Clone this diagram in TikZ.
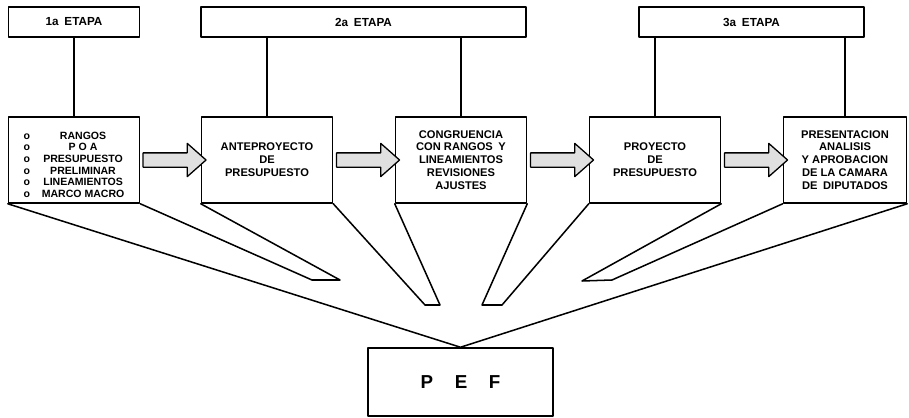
\documentclass[tikz,border=0pt]{standalone}
\usepackage{fontspec}
\setmainfont{Liberation Sans}
\usetikzlibrary{shapes.arrows, calc}

\begin{document}
\begin{tikzpicture}[
  font=\fontsize{9.5}{11}\selectfont\bfseries, x=0.3mm, y=-0.3mm,
  line cap=round, line join=round,
  box/.style={draw=black, fill=white, line width=1.3pt, align=center,
              inner sep=2pt, minimum width=39.3mm, minimum height=25.8mm},
  hdr/.style={draw=black, fill=white, line width=1.3pt, inner sep=2pt,
              minimum height=9mm, font=\fontsize{10}{12}\selectfont\bfseries},
  blk/.style={single arrow, draw=black, fill=black!12, line width=1.1pt,
              inner xsep=0pt, inner ysep=1.95mm, minimum height=18.9mm,
              single arrow head extend=2.85mm, single arrow tip angle=83},
  ln/.style={draw=black, line width=1.3pt},
]
\useasboundingbox (0,0) rectangle (909,418);

\node[hdr, minimum width=39.3mm] (h1) at ( 74, 22) {1a\enspace ETAPA};
\node[hdr, minimum width=97.5mm] (h2) at (363.5, 22) {2a\enspace ETAPA};
\node[hdr, minimum width=67.5mm] (h3) at (751.5, 22) {3a\enspace ETAPA};

\node[box] (b1) at ( 74,160) {};
\node[font=\fontsize{9}{9.9}\selectfont\bfseries, inner sep=0pt] (b1t) at (74,166)
  {\begin{tabular}{@{}l@{\hspace{3.5mm}}c@{}}
   o & RANGOS \\ o & P O A \\ o & PRESUPUESTO \\
   o & PRELIMINAR \\ o & LINEAMIENTOS \\ o & MARCO MACRO
   \end{tabular}};
\node[box] (b2) at (267,160) {ANTEPROYECTO\\DE\\PRESUPUESTO};
\node[box] (b3) at (461,160) {CONGRUENCIA\\CON RANGOS\enspace Y\\LINEAMIENTOS\\REVISIONES\\AJUSTES};
\node[box] (b4) at (655,160) {PROYECTO\\DE\\PRESUPUESTO};
\node[box, minimum width=36.9mm] (b5) at (845,160)
  {PRESENTACION\\ANALISIS\\Y APROBACION\\DE LA CAMARA\\DE\enspace DIPUTADOS};

\node[box, minimum width=55.5mm, minimum height=20.4mm,
      font=\fontsize{16}{19}\selectfont\bfseries] (pef) at (460.5,382)
  {P\hspace{6.5mm}E\hspace{6.5mm}F};

\draw[ln] (h1.south) -- (b1.north);
\draw[ln] (h2.south -| b2.north) -- (b2.north);
\draw[ln] (h2.south -| b3.north) -- (b3.north);
\draw[ln] (h3.south -| b4.north) -- (b4.north);
\draw[ln] (h3.south -| b5.north) -- (b5.north);

\node[blk] (a1) at ($(b1.east)!0.5!(b2.west)$) {};
\node[blk] (a2) at ($(b2.east)!0.5!(b3.west)$) {};
\node[blk] (a3) at ($(b3.east)!0.5!(b4.west)$) {};
\node[blk] (a4) at ($(b4.east)!0.5!(b5.west)$) {};

\coordinate (w1l) at (312,280);
\coordinate (w1r) at (340,280);
\coordinate (w2l) at (425,305);
\coordinate (w2r) at (440,305);
\coordinate (w3l) at (482,305);
\coordinate (w3r) at (502,305);
\coordinate (w4l) at (582,281);
\coordinate (w4r) at (612,280);

\draw[ln] (b1.south west) -- (pef.north) -- (b5.south east);
\draw[ln] (b1.south east) -- (w1l) -- (w1r) -- (b2.south west);
\draw[ln] (b2.south east) -- (w2l) -- (w2r) -- (b3.south west);
\draw[ln] (b3.south east) -- (w3l) -- (w3r) -- (b4.south west);
\draw[ln] (b4.south east) -- (w4l) -- (w4r) -- (b5.south west);
\end{tikzpicture}
\end{document}
